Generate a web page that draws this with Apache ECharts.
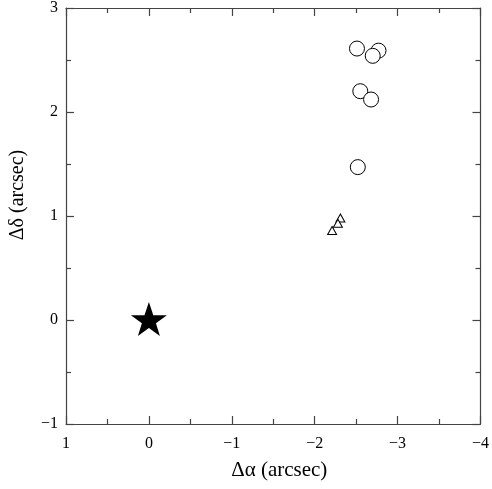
<!DOCTYPE html>
<html>
<head>
<meta charset="utf-8">
<script src="https://cdn.jsdelivr.net/npm/echarts@6/dist/echarts.min.js"></script>
<style>
  html, body { margin: 0; padding: 0; background: #fff; }
  #chart { width: 492px; height: 489px; }
</style>
</head>
<body>
<div id="chart"></div>
<script>
// source position
var starPoint = [[0, 0]]
// offsets in arcsec (Δα, Δδ)
var circlePoints = [
  [-2.51, 2.61],
  [-2.77, 2.59],
  [-2.70, 2.54],
  [-2.55, 2.20],
  [-2.68, 2.12],
  [-2.52, 1.47]
]
var trianglePoints = [
  [-2.31, 0.98],
  [-2.28, 0.93],
  [-2.21, 0.86]
]

var xMin = -4
var xMax = 1
var yMin = -1
var yMax = 3

var starPath = 'path://M50,0 L61.8,35.1 L98.1,35.1 L68.8,56.7 L79.4,90.5 L50,69.1 L20.6,90.5 L31.2,56.7 L1.9,35.1 L38.2,35.1 Z'
var font = 'Liberation Serif'

function minus(v) {
  return String(v).replace('-', '\u2212')
}

var lineStyle = { color: '#444', width: 1.2 }

function axisBase(extra) {
  var base = {
    type: 'value',
    interval: 1,
    splitLine: { show: false },
    axisLine: { show: true, onZero: false, lineStyle: lineStyle },
    axisTick: { show: true, inside: true, length: 8, lineStyle: lineStyle },
    minorTick: { show: true, splitNumber: 2, length: 5, lineStyle: lineStyle },
    minorSplitLine: { show: false }
  }
  return Object.assign(base, extra)
}

var chart = echarts.init(document.getElementById('chart'))

chart.setOption({
  animation: false,
  grid: { left: 63, right: 9, top: 5, bottom: 65 },
  xAxis: [
    axisBase({
      position: 'bottom',
      min: xMin,
      max: xMax,
      inverse: true,
      name: '\u0394\u03b1 (arcsec)',
      nameLocation: 'middle',
      nameGap: 36,
      nameTextStyle: { fontFamily: font, fontSize: 21, color: '#000', padding: [0, 0, 0, 12] },
      axisLabel: { fontFamily: font, fontSize: 16, color: '#000', margin: 12, formatter: minus }
    }),
    axisBase({
      position: 'top',
      min: xMin,
      max: xMax,
      inverse: true,
      axisLabel: { show: false }
    })
  ],
  yAxis: [
    axisBase({
      position: 'left',
      min: yMin,
      max: yMax,
      name: '\u0394\u03b4 (arcsec)',
      nameLocation: 'middle',
      nameGap: 38,
      nameTextStyle: { fontFamily: font, fontSize: 20, color: '#000', padding: [0, 0, 0, 42] },
      axisLabel: { fontFamily: font, fontSize: 16, color: '#000', margin: 8, formatter: minus }
    }),
    axisBase({
      position: 'right',
      min: yMin,
      max: yMax,
      axisLabel: { show: false }
    })
  ],
  series: [
    {
      type: 'scatter',
      data: starPoint,
      symbol: starPath,
      symbolSize: [36, 34],
      symbolOffset: [0, -1],
      itemStyle: { color: '#000', opacity: 1 }
    },
    {
      type: 'scatter',
      data: circlePoints,
      symbol: 'circle',
      symbolSize: 15,
      itemStyle: { color: '#fff', borderColor: '#000', borderWidth: 1, opacity: 1 }
    },
    {
      type: 'scatter',
      data: trianglePoints,
      symbol: 'triangle',
      symbolSize: [9, 8],
      itemStyle: { color: '#fff', borderColor: '#000', borderWidth: 1, opacity: 1 }
    }
  ]
})
</script>
</body>
</html>
